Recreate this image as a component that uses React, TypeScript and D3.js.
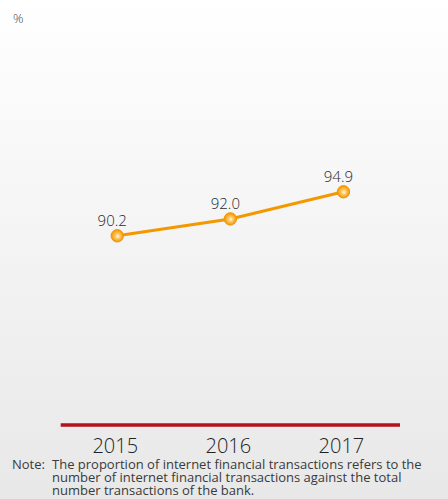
import React from "react";
import * as d3 from "d3";

const years = ["2015", "2016", "2017"];
const values = [90.2, 92.0, 94.9];
const valueLabels = ["90.2", "92.0", "94.9"];
const unitLabel = "%";
const noteLines = [
  "The proportion of internet financial transactions refers to the",
  "number of internet financial transactions against the total",
  "number transactions of the bank.",
];
const notePrefix = "Note:";

const W = 448;
const H = 499;
const FONT = "'Open Sans', 'Noto Sans', sans-serif";

export default function App() {
  const x = d3.scaleBand<string>().domain(years).range([60.7, 400]).padding(0);
  const y = d3.scaleLinear().domain([70, 100]).range([425, 144]);
  const cx = (d: string) => (x(d) as number) + x.bandwidth() / 2;

  const pts = years.map((yr, i) => ({ yr, v: values[i], label: valueLabels[i] }));
  const line = d3
    .line<{ yr: string; v: number }>()
    .x((d) => cx(d.yr))
    .y((d) => y(d.v));

  const baseY = 425;

  return (
    <svg
      width={W}
      height={H}
      style={{ position: "absolute", left: 0, top: 0, display: "block" }}
      fontFamily={FONT}
      fontWeight={400}
    >
      <defs>
        <linearGradient id="bg" x1="0" y1="0" x2="0" y2="1">
          <stop offset="0" stopColor="#ffffff" />
          <stop offset="1" stopColor="#e8e8e8" />
        </linearGradient>
        <radialGradient id="mk" cx="0.5" cy="0.5" r="0.5" fx="0.55" fy="0.55">
          <stop offset="0" stopColor="#fff6e0" />
          <stop offset="0.45" stopColor="#fcc25a" />
          <stop offset="1" stopColor="#f29600" />
        </radialGradient>
      </defs>
      <rect x={0} y={0} width={W} height={H} fill="url(#bg)" />

      <text x={13} y={23} fontSize={13} fontWeight={300} fill="#444">
        {unitLabel}
      </text>

      <path d={line(pts) || ""} fill="none" stroke="#f39800" strokeWidth={3} />
      {pts.map((p) => (
        <g key={p.yr}>
          <circle cx={cx(p.yr)} cy={y(p.v)} r={6.2} fill="url(#mk)" stroke="#f29600" strokeWidth={1} />
          <text
            x={cx(p.yr) - 5}
            y={y(p.v) - 10}
            textAnchor="middle"
            fontSize={15}
            fontWeight={300}
            fill="#2a2a2a"
          >
            {p.label}
          </text>
        </g>
      ))}

      <line x1={x.range()[0]} x2={x.range()[1]} y1={baseY} y2={baseY} stroke="#b5121b" strokeWidth={3.6} />

      {years.map((yr) => (
        <text key={yr} x={cx(yr) - 2} y={452.7} textAnchor="middle" fontSize={20} fontWeight={300} fill="#222">
          {yr}
        </text>
      ))}

      <text x={12} y={469} fontSize={13} fill="#3a3a3a">
        {notePrefix}
      </text>
      {noteLines.map((t, i) => (
        <text key={i} x={52} y={469 + i * 13} fontSize={13} fill="#3a3a3a">
          {t}
        </text>
      ))}
    </svg>
  );
}
